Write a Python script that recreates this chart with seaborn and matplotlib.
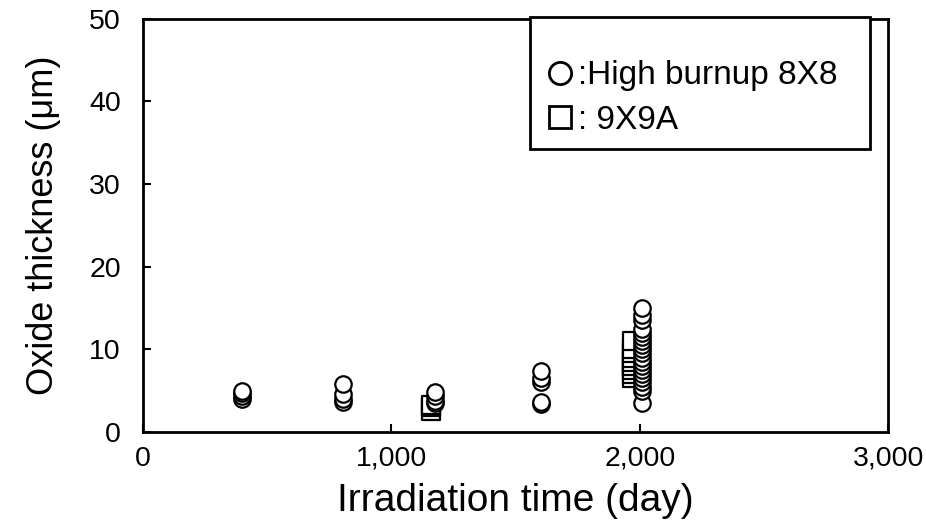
import matplotlib
matplotlib.use("Agg")
import matplotlib.pyplot as plt
import seaborn as sns
import pandas as pd
from matplotlib.lines import Line2D

# High burnup 8X8 (circles)
days_8x8 = [400, 400, 400, 400,
            805, 805, 805, 805,
            1175, 1175, 1175, 1175,
            1600, 1600, 1600, 1600, 1600,
            2010, 2010, 2010, 2010, 2010, 2010, 2010, 2010, 2010, 2010,
            2010, 2010, 2010, 2010, 2010, 2010, 2010, 2010, 2010, 2010]
oxide_8x8 = [4.0, 4.3, 4.7, 5.0,
             3.6, 4.0, 4.6, 5.8,
             3.5, 3.8, 4.3, 4.8,
             3.4, 3.6, 6.0, 6.5, 7.4,
             3.5, 5.0, 5.5, 6.0, 6.5, 7.0, 7.5, 8.0, 8.5, 9.0,
             9.5, 10.0, 10.5, 11.0, 11.5, 12.0, 12.5, 13.5, 14.2, 15.0]

# 9X9A (squares)
days_9x9a = [1160, 1160, 1160,
             1970, 1970, 1970, 1970, 1970, 1970, 1970, 1970, 1970]
oxide_9x9a = [2.6, 3.0, 3.3,
              6.5, 7.0, 7.5, 8.0, 8.5, 9.0, 9.5, 10.0, 11.0]

x_ticks = [0, 1000, 2000, 3000]
x_ticklabels = ["0", "1,000", "2,000", "3,000"]
y_ticks = [0, 10, 20, 30, 40, 50]

df8 = pd.DataFrame({"day": days_8x8, "oxide": oxide_8x8})
df9 = pd.DataFrame({"day": days_9x9a, "oxide": oxide_9x9a})

sns.set_style("white")
plt.rcParams["font.family"] = ["Liberation Sans", "DejaVu Sans"]
plt.rcParams["text.color"] = "black"
plt.rcParams["axes.labelcolor"] = "black"
plt.rcParams["xtick.color"] = "black"
plt.rcParams["ytick.color"] = "black"

fig = plt.figure(figsize=(9.26, 5.23), dpi=100)
ax = fig.add_axes([0.1544, 0.174, 0.805, 0.79])

sns.scatterplot(data=df9, x="day", y="oxide", ax=ax, marker="s", s=160,
                facecolor="white", edgecolor="black", linewidth=1.6, zorder=2)
sns.scatterplot(data=df8, x="day", y="oxide", ax=ax, marker="o", s=140,
                facecolor="white", edgecolor="black", linewidth=1.6, zorder=3)

ax.set_xlim(0, 3000)
ax.set_ylim(0, 50)
ax.set_xticks(x_ticks)
ax.set_xticklabels(x_ticklabels)
ax.set_yticks(y_ticks)
ax.tick_params(axis="both", direction="in", length=6, width=1.5, labelsize=20.5,
               bottom=True, left=True, colors="black")
ax.tick_params(axis="x", pad=10)
ax.tick_params(axis="y", pad=16)
for sp in ax.spines.values():
    sp.set_visible(True)
    sp.set_color("black")
    sp.set_linewidth(2)

ax.set_xlabel("Irradiation time (day)", fontsize=28, labelpad=8, color="black")
ax.set_ylabel("Oxide thickness (\u03bcm)", fontsize=26, labelpad=20, color="black")

handles = [
    Line2D([], [], marker="o", linestyle="none", markersize=16,
           markerfacecolor="white", markeredgecolor="black", markeredgewidth=2),
    Line2D([], [], marker="s", linestyle="none", markersize=16,
           markerfacecolor="white", markeredgecolor="black", markeredgewidth=2),
]
leg = ax.legend(handles, [":High burnup 8X8  ", ": 9X9A"], loc="upper right",
                bbox_to_anchor=(0.975, 1.005), fontsize=24, frameon=True,
                fancybox=False, handlelength=1.0, handletextpad=0.05,
                borderpad=0.4, labelspacing=0.4, borderaxespad=0,
                title=" ", title_fontsize=13, labelcolor="black")
leg.get_frame().set_edgecolor("black")
leg.get_frame().set_linewidth(2)
leg.get_frame().set_alpha(1)

fig.savefig("out.png", dpi=100)
